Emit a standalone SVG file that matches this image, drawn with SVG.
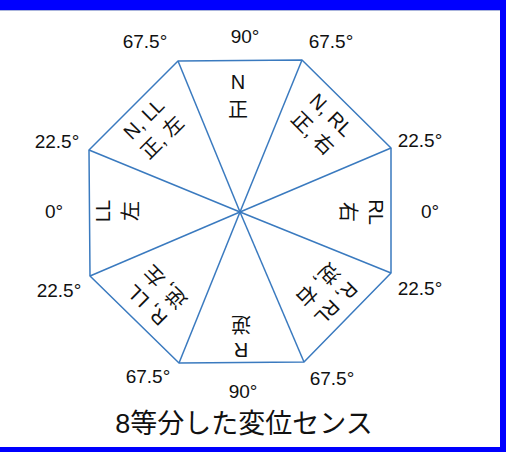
<svg xmlns="http://www.w3.org/2000/svg" width="506" height="452" viewBox="0 0 506 452">
<style>
.frame{fill:#0000ff}
.edge{fill:none;stroke:#3a7abf;stroke-width:1.5;stroke-linejoin:round}
.ang{font-family:"Liberation Sans",Arial,sans-serif;font-size:19px;fill:#111;text-anchor:middle}
.lbl{font-family:"Liberation Sans","Noto Sans CJK JP",sans-serif;font-size:20px;fill:#111;text-anchor:middle}
.title{font-family:"Liberation Sans","Noto Sans CJK JP",sans-serif;font-size:27px;fill:#111;text-anchor:middle}
</style>
<rect width="506" height="452" fill="#ffffff"/>
<g id="frame">
<rect class="frame" x="0" y="0" width="506" height="10"/>
<line x1="0" y1="10.5" x2="500" y2="10.5" stroke="#aab4dc" stroke-width="1"/>
<rect class="frame" x="500" y="0" width="6" height="452"/>
<rect class="frame" x="0" y="447" width="506" height="5"/>
</g>
<g id="connectors">
<polygon class="edge" points="178,61 302,60 391,148 391,273 304,362 179,363 90,276 89,150"/>
<line class="edge" x1="240" y1="212" x2="178" y2="61"/>
<line class="edge" x1="240" y1="212" x2="302" y2="60"/>
<line class="edge" x1="240" y1="212" x2="391" y2="148"/>
<line class="edge" x1="240" y1="212" x2="391" y2="273"/>
<line class="edge" x1="240" y1="212" x2="304" y2="362"/>
<line class="edge" x1="240" y1="212" x2="179" y2="363"/>
<line class="edge" x1="240" y1="212" x2="90" y2="276"/>
<line class="edge" x1="240" y1="212" x2="89" y2="150"/>
</g>
<g id="sector-top" transform="translate(238,96)">
<text class="lbl" y="-7">N</text><text class="lbl" y="21">正</text>
</g>
<g id="sector-topright" transform="translate(322,124) rotate(45)">
<text class="lbl" y="-6">N, RL</text><text class="lbl" y="20">正, 右</text>
</g>
<g id="sector-right" transform="translate(362,212) rotate(90)">
<text class="lbl" y="-7">RL</text><text class="lbl" y="21">右</text>
</g>
<g id="sector-bottomright" transform="translate(327,294) rotate(135)">
<text class="lbl" y="-6">R, RL</text><text class="lbl" y="20">逆, 右</text>
</g>
<g id="sector-bottom" transform="translate(241,337) rotate(180)">
<text class="lbl" y="-6">R</text><text class="lbl" y="20">逆</text>
</g>
<g id="sector-bottomleft" transform="translate(156,296) rotate(-135)">
<text class="lbl" y="-6">R, LL</text><text class="lbl" y="20">逆, 左</text>
</g>
<g id="sector-left" transform="translate(117,211) rotate(-90)">
<text class="lbl" y="-7">LL</text><text class="lbl" y="21">左</text>
</g>
<g id="sector-topleft" transform="translate(153,128) rotate(-45)">
<text class="lbl" y="-6">N, LL</text><text class="lbl" y="20">正, 左</text>
</g>
<g id="angles">
<text class="ang" x="245" y="43">90°</text>
<text class="ang" x="145" y="48">67.5°</text>
<text class="ang" x="331" y="48">67.5°</text>
<text class="ang" x="57" y="148">22.5°</text>
<text class="ang" x="420" y="147">22.5°</text>
<text class="ang" x="54" y="218">0°</text>
<text class="ang" x="430" y="218">0°</text>
<text class="ang" x="59" y="297">22.5°</text>
<text class="ang" x="420" y="295">22.5°</text>
<text class="ang" x="148" y="383">67.5°</text>
<text class="ang" x="332" y="385">67.5°</text>
<text class="ang" x="243" y="398">90°</text>
</g>
<text id="title" class="title" x="244" y="433">8等分した変位センス</text>
</svg>
